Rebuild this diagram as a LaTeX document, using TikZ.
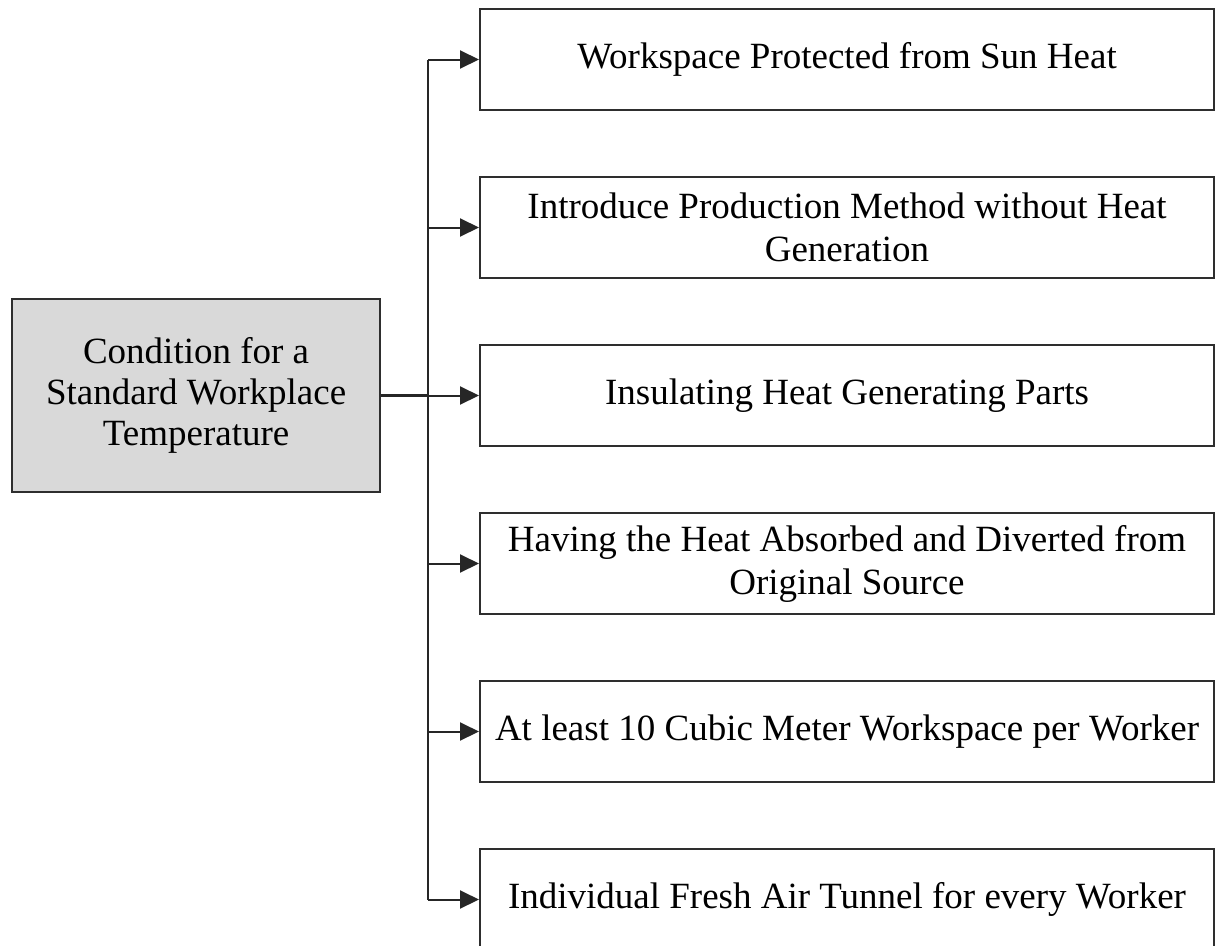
\documentclass[tikz,border=0pt]{standalone}
\usepackage{fontspec}
\setmainfont{Liberation Serif}
\usetikzlibrary{arrows.meta}
\definecolor{boxgray}{HTML}{D9D9D9}
\definecolor{edge}{HTML}{2E2E2E}
\tikzset{
  item/.style={draw=edge, line width=2pt, fill=white, minimum width=734pt, minimum height=101pt,
    align=center, inner sep=2pt, font=\fontsize{37pt}{43pt}\selectfont, anchor=north west},
  root/.style={draw=edge, line width=2.2pt, fill=boxgray, minimum width=368pt, minimum height=193pt,
    align=center, inner sep=2pt, font=\fontsize{37pt}{41pt}\selectfont, anchor=north west},
  conn/.style={draw=black!85, line width=2pt},
  arr/.style={conn, -{Triangle[length=19pt,width=18pt]}},
}
\begin{document}
\begin{tikzpicture}[x=1pt,y=-1pt]
\useasboundingbox (0,0) rectangle (1217,945);
\begin{scope}
\clip (0,0) rectangle (1217,945);
\node[root] (root) at (11,298) {Condition for a\\Standard Workplace\\Temperature};
\node[item] (b1) at (479,8) {Workspace Protected from Sun Heat};
\node[item] (b2) at (479,176) {Introduce Production Method without Heat\\Generation};
\node[item] (b3) at (479,344) {Insulating Heat Generating Parts};
\node[item] (b4) at (479,512) {Having the Heat Absorbed and Diverted from\\Original Source};
\node[item] (b5) at (479,680) {At least 10 Cubic Meter Workspace per Worker};
\node[item] (b6) at (479,848) {Individual Fresh Air Tunnel for every Worker};
\coordinate (trunk) at (428,394.5);
\draw[conn, line width=2.6pt] (root.east) -- (trunk |- root.east);
\draw[conn] (trunk |- b1.west) -- (trunk |- b6.west);
\foreach \b in {b1,b2,b3,b4,b5,b6}{
  \draw[arr] (trunk |- \b.west) -- (\b.west);
}
\end{scope}
\end{tikzpicture}
\end{document}
